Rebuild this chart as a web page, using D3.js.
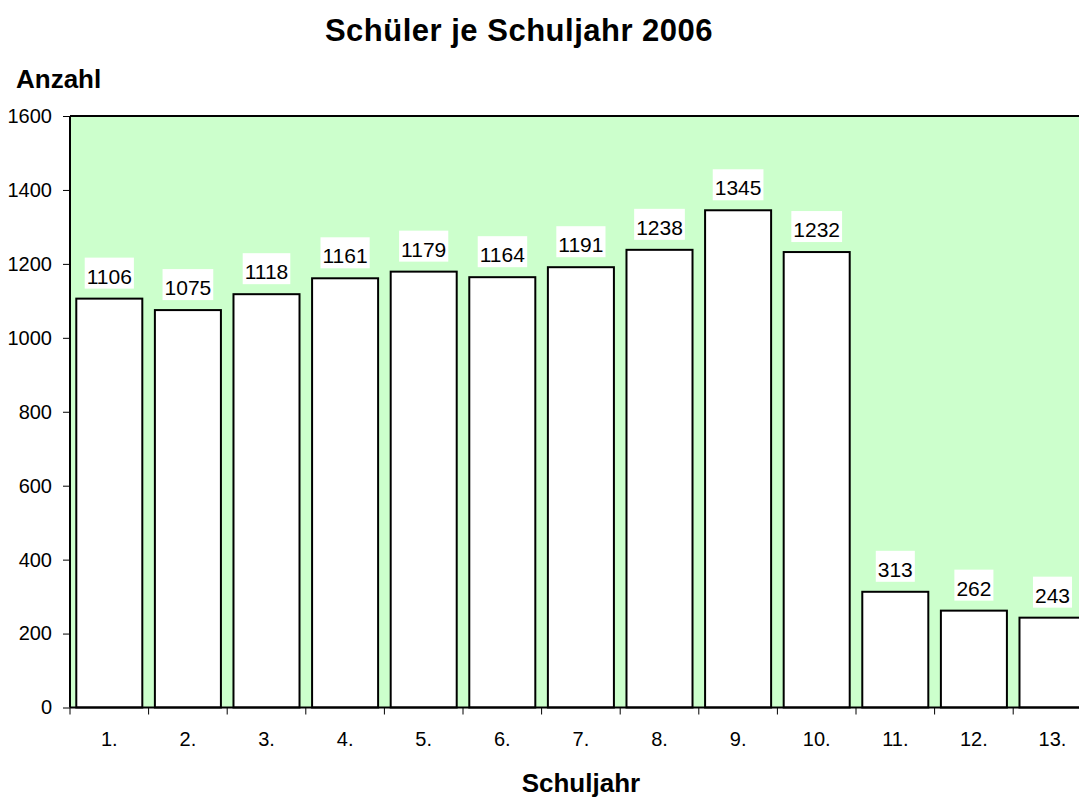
<!DOCTYPE html>
<html><head><meta charset="utf-8">
<script src="https://cdn.jsdelivr.net/npm/d3@7"></script>
<style>body{margin:0;background:#fff;}svg{display:block;font-family:"Liberation Sans",Arial,sans-serif;}</style>
</head><body>
<script>
const categories = ["1.","2.","3.","4.","5.","6.","7.","8.","9.","10.","11.","12.","13."];
const values = [1106,1075,1118,1161,1179,1164,1191,1238,1345,1232,313,262,243];
const yTicks = [0,200,400,600,800,1000,1200,1400,1600];
const title = "Schüler je Schuljahr 2006";
const yTitle = "Anzahl";
const xTitle = "Schuljahr";

const W = 1079, H = 798;
const pLeft = 70, pTop = 116, pBottom = 707.5, pRight = 70 + 13*78.6;
const FONT = "Liberation Sans, Arial, sans-serif";
const svg = d3.select("body").append("svg").attr("width", W).attr("height", H);

const x = d3.scaleBand().domain(categories).range([pLeft, pRight]).paddingInner(0.16).paddingOuter(0.08);
const y = d3.scaleLinear().domain([0,1600]).range([pBottom, pTop]);

svg.append("rect").attr("x", pLeft).attr("y", pTop).attr("width", pRight-pLeft).attr("height", pBottom-pTop).attr("fill", "#CCFFCC");
svg.append("line").attr("x1", pLeft).attr("x2", pRight).attr("y1", pTop).attr("y2", pTop).attr("stroke","#000").attr("stroke-width",2);

svg.selectAll("rect.bar").data(values).join("rect").attr("class","bar")
  .attr("x",(d,i)=>x(categories[i])).attr("width",x.bandwidth())
  .attr("y",d=>y(d)).attr("height",d=>pBottom-y(d))
  .attr("fill","#fff").attr("stroke","#000").attr("stroke-width",2);

// data labels
const lg = svg.selectAll("g.lbl").data(values).join("g").attr("class","lbl");
lg.each(function(d,i){
  const g = d3.select(this);
  const cx = x(categories[i]) + x.bandwidth()/2;
  const base = y(d) - 15;
  const t = g.append("text").attr("x",cx).attr("y",base).attr("text-anchor","middle")
    .attr("font-size",21).attr("fill","#000").style("font-family",FONT).text(d);
  const bb = t.node().getBBox();
  g.insert("rect","text").attr("x",bb.x-2).attr("y",base-26).attr("width",bb.width+4).attr("height",31).attr("fill","#fff");
});

// y axis
const ya = svg.append("g").attr("transform",`translate(${pLeft},0)`)
  .call(d3.axisLeft(y).tickValues(yTicks).tickSize(7).tickPadding(11).tickFormat(d3.format("d")));
ya.select(".domain").attr("stroke","#000").attr("stroke-width",2).attr("d",`M0,${pTop}V${pBottom}`);
ya.selectAll("text").attr("font-size",20).attr("fill","#000").style("font-family",FONT);
ya.selectAll(".tick line").attr("stroke","#000");

// x axis
const xa = svg.append("g").attr("transform",`translate(0,${pBottom})`)
  .call(d3.axisBottom(x).tickSize(0).tickPadding(24));
xa.select(".domain").attr("stroke","#000").attr("stroke-width",2).attr("d",`M${pLeft},0H${pRight}`);
xa.selectAll("text").attr("font-size",20).attr("fill","#000").attr("dy",null).attr("y",null)
  .attr("transform","translate(0,38.5)").style("font-family",FONT);
svg.append("g").selectAll("line").data(d3.range(categories.length+1)).join("line")
  .attr("x1",i=>pLeft+i*(pRight-pLeft)/categories.length).attr("x2",i=>pLeft+i*(pRight-pLeft)/categories.length)
  .attr("y1",pBottom).attr("y2",pBottom+7).attr("stroke","#000").attr("stroke-width",1);

svg.append("text").attr("x",519).attr("y",41).attr("text-anchor","middle").attr("font-size",31)
  .attr("font-weight","bold").attr("letter-spacing",0.5).style("font-family",FONT).text(title);
svg.append("text").attr("x",16).attr("y",88).attr("font-size",26).attr("font-weight","bold").style("font-family",FONT).text(yTitle);
svg.append("text").attr("x",(pLeft+pRight)/2).attr("y",792).attr("text-anchor","middle").attr("font-size",26)
  .attr("font-weight","bold").style("font-family",FONT).text(xTitle);
</script>
</body></html>
